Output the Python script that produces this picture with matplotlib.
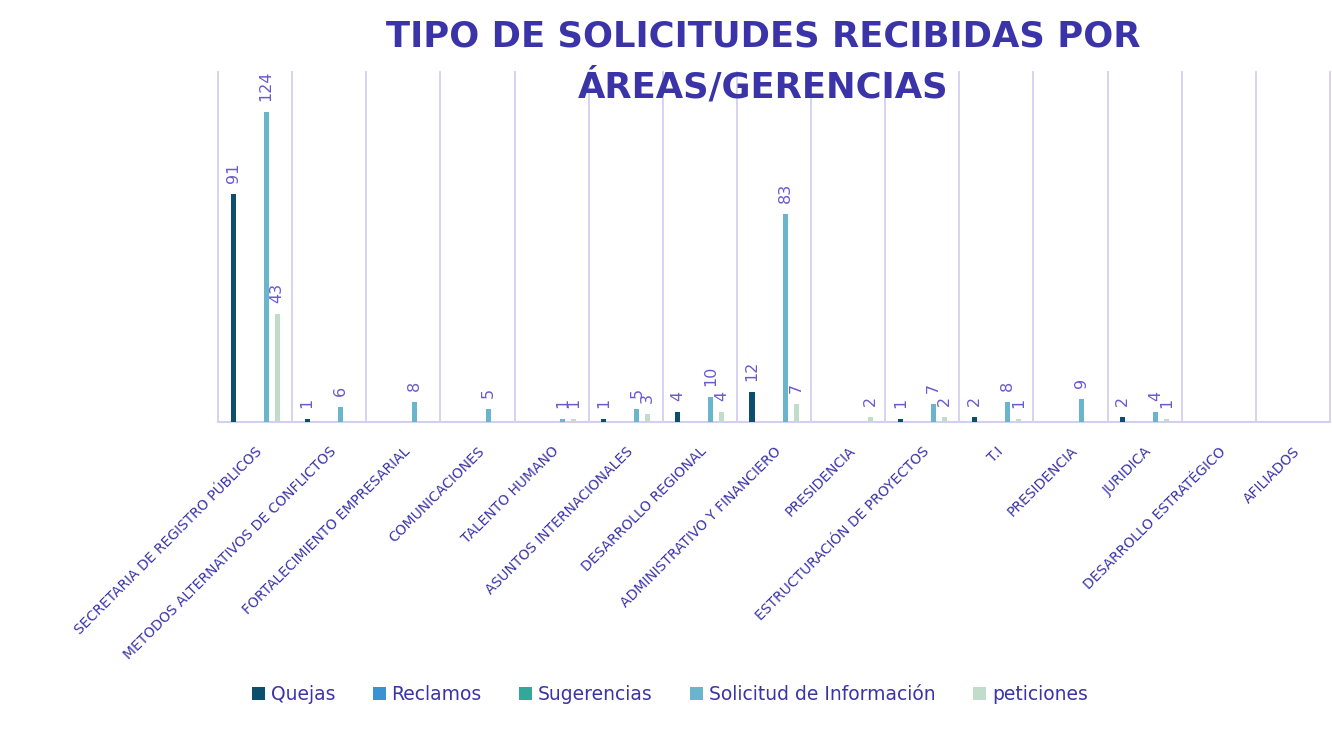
import numpy as np
import matplotlib.pyplot as plt
from matplotlib.patches import Patch

# categorías (áreas / gerencias)
areas = ['SECRETARIA DE REGISTRO PÚBLICOS', 'METODOS ALTERNATIVOS DE CONFLICTOS',
         'FORTALECIMIENTO EMPRESARIAL', 'COMUNICACIONES', 'TALENTO HUMANO',
         'ASUNTOS INTERNACIONALES', 'DESARROLLO REGIONAL', 'ADMINISTRATIVO Y FINANCIERO',
         'PRESIDENCIA', 'ESTRUCTURACIÓN DE PROYECTOS', 'T.I', 'PRESIDENCIA',
         'JURIDICA', 'DESARROLLO ESTRATÉGICO', 'AFILIADOS']

# valores por tipo de solicitud
quejas = [91, 1, 0, 0, 0, 1, 4, 12, 0, 1, 2, 0, 2, 0, 0]
reclamos = [0] * 15
sugerencias = [0] * 15
solicitud = [124, 6, 8, 5, 1, 5, 10, 83, 0, 7, 8, 9, 4, 0, 0]
peticiones = [43, 0, 0, 0, 1, 3, 4, 7, 2, 2, 1, 0, 1, 0, 0]

series = ['Quejas', 'Reclamos', 'Sugerencias', 'Solicitud de Información', 'peticiones']
valores = [quejas, reclamos, sugerencias, solicitud, peticiones]
colores = ['#0b4f6c', '#3a93d0', '#31a89a', '#6ab5cc', '#c2dccb']

azul = '#3a34a8'
lila = '#d4cff0'
etiqueta = '#6a5ad0'

fig = plt.figure(figsize=(13.32, 7.33), dpi=100)
ax = fig.add_axes([0.1637, 0.4243, 0.8348, 0.4775])

x = np.arange(len(areas))
paso = 0.1486
ancho = 0.068
for k, (nombre, vals, col) in enumerate(zip(series, valores, colores)):
    pos = x + (k - 2) * paso
    ax.bar(pos, vals, width=ancho, color=col, zorder=3)
    for p, v in zip(pos, vals):
        if v > 0:
            ax.annotate(str(v), (p, v), xytext=(0, 8), textcoords='offset points',
                        rotation=90, ha='center', va='bottom', color=etiqueta,
                        fontsize=11.5, family='DejaVu Sans')

ax.set_xlim(-0.5, len(areas) - 0.5)
ax.set_ylim(0, 140)
for b in np.arange(-0.5, len(areas), 1.0):
    ax.axvline(b, color=lila, lw=1.3, zorder=1, clip_on=False)
for s in ['top', 'right', 'left']:
    ax.spines[s].set_visible(False)
ax.spines['bottom'].set_color(lila)
ax.spines['bottom'].set_linewidth(1.5)
ax.set_yticks([])
ax.set_xticks(x)
ax.set_xticklabels(areas, rotation=45, ha='right', rotation_mode='anchor',
                   fontsize=10, color=azul)
ax.tick_params(axis='x', length=0, pad=16)

fig.text(0.573, 0.915, 'TIPO DE SOLICITUDES RECIBIDAS POR\nÁREAS/GERENCIAS',
         ha='center', va='center', fontsize=25.5, fontweight='bold', color=azul,
         family='DejaVu Sans', linespacing=1.5)

handles = [Patch(facecolor=c, edgecolor='none') for c in colores]
fig.legend(handles, series, loc='center', bbox_to_anchor=(0.503, 0.052), ncol=5,
           frameon=False, fontsize=13.5, labelcolor=azul, handlelength=0.7,
           handleheight=0.7, handletextpad=0.3, columnspacing=2.0)

fig.savefig('out.png', dpi=100)
